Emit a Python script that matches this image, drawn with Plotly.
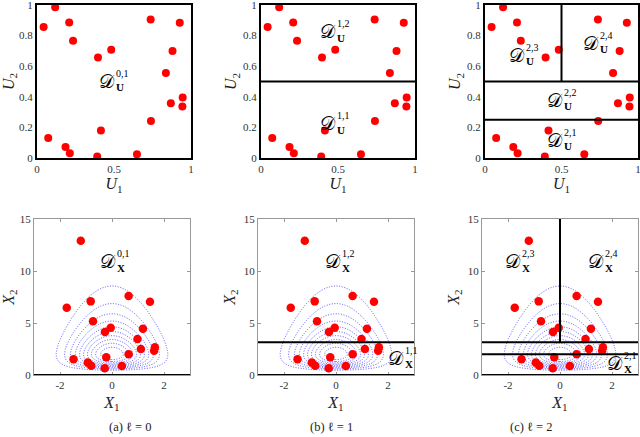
import numpy as np
import plotly.graph_objects as go

# sample points in the copula space (U) and in the physical space (X)
U1 = [0.118, 0.043, 0.209, 0.234, 0.396, 0.482, 0.738, 0.927, 0.880, 0.837,
      0.946, 0.869, 0.944, 0.740, 0.415, 0.073, 0.185, 0.213, 0.391, 0.649]
U2 = [0.985, 0.856, 0.886, 0.766, 0.657, 0.707, 0.906, 0.884, 0.699, 0.555,
      0.395, 0.358, 0.336, 0.242, 0.179, 0.131, 0.072, 0.031, 0.009, 0.024]
X1 = [-1.20, -1.74, -0.82, 0.64, 1.46, -0.73, -0.05, -0.27, 1.19, 0.98,
      1.11, 1.65, 1.62, 0.64, -0.22, -1.48, -0.93, -0.80, -0.28, 0.38]
X2 = [12.9, 6.47, 7.08, 7.6, 7.05, 5.16, 4.55, 4.13, 4.45, 3.46,
      2.5, 2.66, 2.34, 1.99, 1.70, 1.51, 1.19, 0.90, 0.64, 0.87]

# partition boundaries
U_SPLIT_1 = 0.5
U_SPLIT_2 = 0.25
X_SPLIT_1 = 3.16
X_SPLIT_2 = 2.0

# density model for the contours: X1 ~ N(0,1), X2 ~ LogNormal(MU, SIGMA)
MU = 1.15
SIGMA = 0.68
LEVELS = [0.1, 0.19, 0.28, 0.37, 0.46, 0.55, 0.64, 0.73, 0.82, 0.91]

CAPTIONS = ["(a) ℓ = 0", "(b) ℓ = 1", "(c) ℓ = 2"]

W, H = 640, 437
SERIF = "Liberation Serif"
RED = "#ff0000"


def px_x(p):
    return p / W


def px_y(p):
    return 1 - p / H


TOP_X = [(37, 191), (261, 415), (485, 638)]
BOT_X = [(34, 190), (258, 414), (482, 638)]
TOP_Y = (px_y(158), px_y(5))
BOT_Y = (px_y(375), px_y(219))

fig = go.Figure()

g1 = np.linspace(-3, 3, 241)
g2 = np.linspace(0.02, 15, 400)
G1, G2 = np.meshgrid(g1, g2)
dens = np.exp(-G1 ** 2 / 2) * np.exp(-(np.log(G2) - MU) ** 2 / (2 * SIGMA ** 2)) / G2
dens = dens / dens.max()

layout = {}
for i in range(3):
    tx, ty = "x%d" % (i + 1), "y%d" % (i + 1)
    bx, by = "x%d" % (i + 4), "y%d" % (i + 4)
    fig.add_trace(go.Scatter(x=U1, y=U2, mode="markers", xaxis=tx, yaxis=ty,
                             marker=dict(color=RED, size=8), showlegend=False))
    fig.add_trace(go.Contour(x=g1, y=g2, z=dens, xaxis=bx, yaxis=by,
                             contours=dict(coloring="lines", start=LEVELS[0], end=LEVELS[-1],
                                           size=LEVELS[1] - LEVELS[0]),
                             colorscale=[[0, "#5050ff"], [1, "#5050ff"]],
                             line=dict(width=1, dash="1px,1.6px"), showscale=False, hoverinfo="skip"))
    fig.add_trace(go.Scatter(x=X1, y=X2, mode="markers", xaxis=bx, yaxis=by,
                             marker=dict(color=RED, size=8.5), showlegend=False))

    tick_font = dict(family=SERIF, size=11, color="#333")
    title_font = dict(family=SERIF, size=16, color="#222")
    common = dict(automargin=False, ticklabeloverflow="allow", showgrid=False, zeroline=False,
                  tickfont=tick_font)
    layout["xaxis%d" % (i + 1)] = dict(
        domain=[px_x(TOP_X[i][0]), px_x(TOP_X[i][1])], anchor=ty, range=[0, 1],
        tickvals=[0, 0.5, 1], ticktext=["0", "0.5", "1"],
        showline=True, mirror=True, linecolor="black", linewidth=2, ticks="",
        title=dict(text="<i>U</i><sub>1</sub>", font=title_font, standoff=4), **common)
    layout["yaxis%d" % (i + 1)] = dict(
        domain=list(TOP_Y), anchor=tx, range=[0, 1],
        tickvals=[0, 0.2, 0.4, 0.6, 0.8, 1], ticktext=["0", "0.2", "0.4", "0.6", "0.8", "1"],
        showline=True, mirror=True, linecolor="black", linewidth=2, ticks="",
        title=dict(text="<i>U</i><sub>2</sub>", font=title_font, standoff=2), **common)
    layout["xaxis%d" % (i + 4)] = dict(
        domain=[px_x(BOT_X[i][0]), px_x(BOT_X[i][1])], anchor=by, range=[-3, 3],
        tickvals=[-2, 0, 2], ticktext=["-2", "0", "2"],
        showline=True, mirror="ticks", linecolor="#999", linewidth=1, ticks="inside",
        ticklen=3, tickcolor="#999",
        title=dict(text="<i>X</i><sub>1</sub>", font=title_font, standoff=6), **common)
    layout["yaxis%d" % (i + 4)] = dict(
        domain=list(BOT_Y), anchor=bx, range=[0, 15],
        tickvals=[0, 5, 10, 15],
        showline=True, mirror="ticks", linecolor="#999", linewidth=1, ticks="inside",
        ticklen=3, tickcolor="#999",
        title=dict(text="<i>X</i><sub>2</sub>", font=title_font, standoff=4), **common)

    # domain bottom boundary X2 = 0
    fig.add_shape(type="line", xref="x%d domain" % (i + 4), yref=by, x0=0, x1=1, y0=0, y1=0,
                  line=dict(color="black", width=2))

    cx = (BOT_X[i][0] + BOT_X[i][1]) / 2 - 5
    fig.add_annotation(text=CAPTIONS[i], xref="paper", yref="paper", x=px_x(cx), y=px_y(427),
                       yanchor="middle", showarrow=False,
                       font=dict(family=SERIF, size=12.5, color="#222"))

line_k = dict(color="black", width=2)
# level 1 partitions
fig.add_shape(type="line", xref="x2 domain", yref="y2", x0=0, x1=1, y0=U_SPLIT_1, y1=U_SPLIT_1, line=line_k)
fig.add_shape(type="line", xref="x5 domain", yref="y5", x0=0, x1=1, y0=X_SPLIT_1, y1=X_SPLIT_1, line=line_k)
# level 2 partitions
fig.add_shape(type="line", xref="x3 domain", yref="y3", x0=0, x1=1, y0=U_SPLIT_1, y1=U_SPLIT_1, line=line_k)
fig.add_shape(type="line", xref="x3 domain", yref="y3", x0=0, x1=1, y0=U_SPLIT_2, y1=U_SPLIT_2, line=line_k)
fig.add_shape(type="line", xref="x3", yref="y3", x0=0.5, x1=0.5, y0=U_SPLIT_1, y1=1, line=line_k)
fig.add_shape(type="line", xref="x6 domain", yref="y6", x0=0, x1=1, y0=X_SPLIT_1, y1=X_SPLIT_1, line=line_k)
fig.add_shape(type="line", xref="x6 domain", yref="y6", x0=0, x1=1, y0=X_SPLIT_2, y1=X_SPLIT_2, line=line_k)
fig.add_shape(type="line", xref="x6", yref="y6", x0=0, x1=0, y0=X_SPLIT_1, y1=15, line=line_k)


def add_label(ax, x, y, sup, sub):
    xr, yr = "x%d" % ax, "y%d" % ax
    fig.add_annotation(text="𝒟", xref=xr, yref=yr, x=x, y=y, showarrow=False,
                       font=dict(family=SERIF, size=19, color="black"))
    fig.add_annotation(text=sup, xref=xr, yref=yr, x=x, y=y, xshift=7, yshift=8, xanchor="left",
                       showarrow=False, font=dict(family=SERIF, size=10, color="black"))
    fig.add_annotation(text="<b>%s</b>" % sub, xref=xr, yref=yr, x=x, y=y, xshift=7, yshift=-6,
                       xanchor="left", showarrow=False, font=dict(family=SERIF, size=11, color="black"))


add_label(1, 0.456, 0.5, "0,1", "U")
add_label(2, 0.437, 0.825, "1,2", "U")
add_label(2, 0.437, 0.225, "1,1", "U")
add_label(3, 0.207, 0.672, "2,3", "U")
add_label(3, 0.696, 0.749, "2,4", "U")
add_label(3, 0.457, 0.378, "2,2", "U")
add_label(3, 0.457, 0.116, "2,1", "U")
add_label(4, -0.17, 10.9, "0,1", "X")
add_label(5, -0.12, 10.9, "1,2", "X")
add_label(5, 2.3, 1.6, "1,1", "X")
add_label(6, -1.81, 10.9, "2,3", "X")
add_label(6, 1.40, 10.9, "2,4", "X")
add_label(6, -3.67, 2.72, "2,2", "X")
add_label(6, 2.12, 1.12, "2,1", "X")

fig.update_layout(**layout)
fig.update_layout(width=W, height=H, margin=dict(l=0, r=0, t=0, b=0),
                  paper_bgcolor="white", plot_bgcolor="white", showlegend=False)
fig.write_html("out.html", config={"displayModeBar": False},
               post_script="document.body.style.margin='0';")
